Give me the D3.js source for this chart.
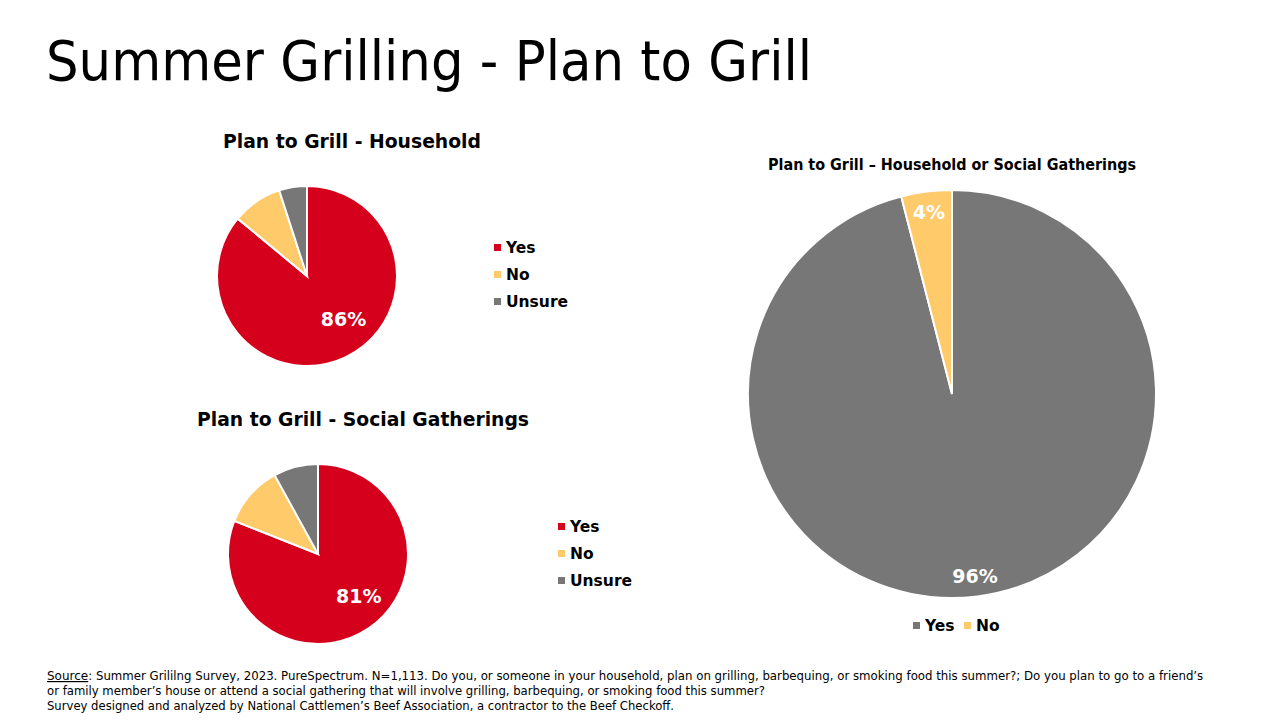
<!DOCTYPE html>
<html><head><meta charset="utf-8">
<script src="https://cdn.jsdelivr.net/npm/d3@7"></script>
<style>body{margin:0;background:#fff;font-family:Tahoma,"DejaVu Sans",sans-serif}</style>
</head><body>
<svg id="c" width="1280" height="720"></svg>
<script>
const categories = ['Yes', 'No', 'Unsure'];
const householdValues = [86, 9, 5];
const socialValues = [81, 11, 8];
const combinedCategories = ['Yes', 'No'];
const combinedValues = [96, 4];

const svg = d3.select('#c');
const font = 'Tahoma, "DejaVu Sans", sans-serif';

svg.append('text').attr('x', 46).attr('y', 80).attr('font-size', 56)
  .attr('font-family', font).attr('fill', '#000')
  .attr('textLength', 766).attr('lengthAdjust', 'spacingAndGlyphs')
  .text('Summer Grilling - Plan to Grill');

function drawPie(o) {
  const color = d3.scaleOrdinal().domain(o.cats).range(o.colors);
  const pie = d3.pie().sort(null).value(d => d.v);
  const arc = d3.arc().innerRadius(0).outerRadius(o.r);
  const data = pie(o.cats.map((c, i) => ({ c: c, v: o.vals[i] })));
  const g = svg.append('g').attr('transform', `translate(${o.cx},${o.cy})`);
  g.selectAll('path').data(data).enter().append('path')
    .attr('d', arc).attr('fill', d => color(d.data.c))
    .attr('stroke', '#fff').attr('stroke-width', 2);
  // label position: slice mid-angle, nudged per chart
  const pos = d => {
    const a = (d.startAngle + d.endAngle) / 2 + (o.ao || 0) * Math.PI / 180;
    return [Math.sin(a) * o.r * o.lf, -Math.cos(a) * o.r * o.lf];
  };
  g.selectAll('text.l').data(data.filter(d => o.show.includes(d.data.c))).enter().append('text')
    .attr('transform', d => `translate(${pos(d)})`)
    .attr('text-anchor', 'middle').attr('dy', '0.35em')
    .attr('font-size', 19).attr('font-weight', 'bold').attr('fill', '#fff')
    .attr('font-family', font).text(d => d.data.v + '%');
  svg.append('text').attr('x', o.tx).attr('y', o.ty).attr('text-anchor', 'middle')
    .attr('font-size', o.ts).attr('font-weight', 'bold').attr('font-family', font)
    .attr('textLength', o.tl).attr('lengthAdjust', 'spacingAndGlyphs').text(o.title);
  return color;
}

function vLegend(color, cats, x, y) {
  cats.forEach((c, i) => {
    svg.append('rect').attr('x', x).attr('y', y + i * 27 - 4).attr('width', 7).attr('height', 7).attr('fill', color(c));
    svg.append('text').attr('x', x + 12).attr('y', y + i * 27).attr('dy', '0.35em')
      .attr('font-size', 15.5).attr('font-weight', 'bold').attr('font-family', font).text(c);
  });
}

const c1 = drawPie({ cats: categories, vals: householdValues, colors: ['#d5001c', '#ffca6a', '#777777'],
  cx: 307, cy: 276, r: 90, lf: 0.63, ao: -15, show: ['Yes'], tx: 352, ty: 148, ts: 20, tl: 258,
  title: 'Plan to Grill - Household' });
vLegend(c1, categories, 494, 248);

const c2 = drawPie({ cats: categories, vals: socialValues, colors: ['#d5001c', '#ffca6a', '#777777'],
  cx: 318, cy: 554, r: 90, lf: 0.65, ao: -10, show: ['Yes'], tx: 363, ty: 426, ts: 20, tl: 332,
  title: 'Plan to Grill - Social Gatherings' });
vLegend(c2, categories, 558, 527);

const c3 = drawPie({ cats: combinedCategories, vals: combinedValues, colors: ['#777777', '#ffca6a'],
  cx: 952, cy: 394, r: 204, lf: 0.9, show: ['Yes', 'No'], tx: 952, ty: 170, ts: 16, tl: 368,
  title: 'Plan to Grill \u2013 Household or Social Gatherings' });
combinedCategories.forEach((c, i) => {
  const x = 913 + i * 51;
  svg.append('rect').attr('x', x).attr('y', 622).attr('width', 7).attr('height', 7).attr('fill', c3(c));
  svg.append('text').attr('x', x + 12).attr('y', 626).attr('dy', '0.35em')
    .attr('font-size', 15.5).attr('font-weight', 'bold').attr('font-family', font).text(c);
});

const src = svg.append('text').attr('font-size', 12).attr('font-family', font);
src.append('tspan').attr('x', 47).attr('y', 680).attr('text-decoration', 'underline').text('Source');
src.append('tspan').attr('textLength', 1115).attr('lengthAdjust', 'spacingAndGlyphs')
  .text(': Summer Grililng Survey, 2023. PureSpectrum. N=1,113. Do you, or someone in your household, plan on grilling, barbequing, or smoking food this summer?; Do you plan to go to a friend\u2019s');
src.append('tspan').attr('x', 47).attr('y', 695).attr('textLength', 718).attr('lengthAdjust', 'spacingAndGlyphs')
  .text('or family member\u2019s house or attend a social gathering that will involve grilling, barbequing, or smoking food this summer?');
src.append('tspan').attr('x', 47).attr('y', 710).attr('textLength', 627).attr('lengthAdjust', 'spacingAndGlyphs')
  .text('Survey designed and analyzed by National Cattlemen\u2019s Beef Association, a contractor to the Beef Checkoff.');
</script>
</body></html>
